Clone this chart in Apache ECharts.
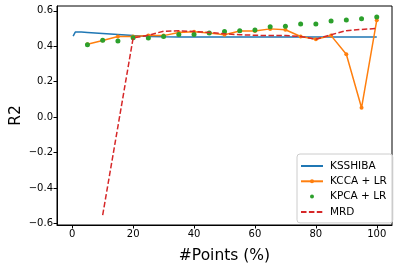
<!DOCTYPE html>
<html><head><meta charset="utf-8">
<script src="https://cdn.jsdelivr.net/npm/echarts@6/dist/echarts.min.js"></script>
<style>html,body{margin:0;padding:0;background:#fff}#c{width:399px;height:267px}</style>
</head><body><div id="c"></div>
<script>
const xTicks = [0, 20, 40, 60, 80, 100];
const yTicks = [-0.6, -0.4, -0.2, 0.0, 0.2, 0.4, 0.6];

const ksshibaX = [0.3, 1, 2, 3, 5, 10, 15, 20, 25, 30, 35, 40, 45, 50, 55, 60, 65, 70, 75, 80, 85, 90, 95, 100];
const ksshibaY = [0.457, 0.480, 0.481, 0.480, 0.478, 0.472, 0.466, 0.460, 0.455, 0.453, 0.452, 0.452, 0.452, 0.452, 0.452, 0.452, 0.452, 0.452, 0.452, 0.452, 0.452, 0.452, 0.452, 0.452];

const methodX = [5, 10, 15, 20, 25, 30, 35, 40, 45, 50, 55, 60, 65, 70, 75, 80, 85, 90, 95, 100];
const kccaY = [0.411, 0.432, 0.455, 0.455, 0.460, 0.460, 0.478, 0.482, 0.475, 0.465, 0.486, 0.486, 0.498, 0.493, 0.455, 0.440, 0.460, 0.355, 0.053, 0.547];
const kpcaY = [0.408, 0.434, 0.430, 0.448, 0.447, 0.455, 0.466, 0.466, 0.475, 0.483, 0.488, 0.492, 0.510, 0.513, 0.525, 0.525, 0.542, 0.548, 0.555, 0.565];

const mrdX = [10, 20, 25, 30, 35, 40, 45, 50, 55, 60, 65, 70, 75, 80, 85, 90, 95, 100];
const mrdY = [-0.552, 0.447, 0.462, 0.485, 0.487, 0.483, 0.478, 0.470, 0.465, 0.462, 0.460, 0.460, 0.455, 0.440, 0.465, 0.488, 0.495, 0.500];

const names = ['KSSHIBA', 'KCCA + LR', 'KPCA + LR', 'MRD'];
const colors = ['#1f77b4', '#ff7f0e', '#2ca02c', '#d62728'];
const pairs = (xs, ys) => xs.map((x, i) => [x, ys[i]]);
const font = 'DejaVu Sans';
const fmt = v => (v < 0 ? '\u2212' : '') + Math.abs(v).toFixed(1);

const chart = echarts.init(document.getElementById('c'), null, {renderer: 'canvas'});
chart.setOption({
  animation: false,
  textStyle: {fontFamily: font},
  grid: {left: 57, right: 7, top: 6, bottom: 42, show: true, borderColor: '#000', borderWidth: 1,
         containLabel: false, outerBoundsMode: 'none'},
  xAxis: {
    type: 'value', min: -5, max: 105,
    name: '#Points (%)', nameLocation: 'middle', nameGap: 23, nameMoveOverlap: false,
    nameTextStyle: {fontFamily: font, fontSize: 15.5, color: '#000'},
    axisLine: {show: true, onZero: false, lineStyle: {color: '#000', width: 1}},
    axisTick: {show: true, length: 3.5, lineStyle: {color: '#000'}, customValues: xTicks},
    axisLabel: {fontFamily: font, fontSize: 10, color: '#000', margin: 4, customValues: xTicks, formatter: v => String(v)},
    splitLine: {show: false}
  },
  yAxis: {
    type: 'value', min: -0.608, max: 0.627,
    name: 'R2', nameLocation: 'middle', nameGap: 33, nameRotate: 90, nameMoveOverlap: false,
    nameTextStyle: {fontFamily: font, fontSize: 15.5, color: '#000'},
    axisLine: {show: true, onZero: false, lineStyle: {color: '#000', width: 1}},
    axisTick: {show: true, length: 3.5, lineStyle: {color: '#000'}, customValues: yTicks},
    axisLabel: {fontFamily: font, fontSize: 10, color: '#000', margin: 4, customValues: yTicks, formatter: fmt},
    splitLine: {show: false}
  },
  legend: {
    orient: 'vertical', left: 297, top: 154,
    padding: [6, 6, 5, 3],
    borderColor: '#cccccc', borderWidth: 1, borderRadius: 3,
    backgroundColor: 'rgba(255,255,255,0.8)',
    itemWidth: 22, itemHeight: 5, itemGap: 3.3,
    textStyle: {fontFamily: font, fontSize: 10.5, color: '#000', lineHeight: 12, padding: [0, 0, 0, 2]},
    data: [
      {name: names[0], itemStyle: {opacity: 0}},
      {name: names[1]},
      {name: names[2], lineStyle: {opacity: 0, width: 0}},
      {name: names[3], itemStyle: {opacity: 0}}
    ]
  },
  series: [
    {name: names[0], type: 'line', data: pairs(ksshibaX, ksshibaY), showSymbol: false, symbol: 'none',
     color: colors[0], lineStyle: {color: colors[0], width: 1.5}, z: 2},
    {name: names[1], type: 'line', data: pairs(methodX, kccaY), symbol: 'circle', symbolSize: 4, showSymbol: true,
     color: colors[1], itemStyle: {color: colors[1]}, lineStyle: {color: colors[1], width: 1.5}, z: 3},
    {name: names[2], type: 'line', data: pairs(methodX, kpcaY), symbol: 'circle', symbolSize: 5, showSymbol: true,
     color: colors[2], itemStyle: {color: colors[2]}, lineStyle: {width: 0, opacity: 0}, z: 4},
    {name: names[3], type: 'line', data: pairs(mrdX, mrdY), symbol: 'none', showSymbol: false,
     color: colors[3], lineStyle: {color: colors[3], width: 1.5, type: [5.5, 2.4]}, z: 5}
  ]
});
</script></body></html>
